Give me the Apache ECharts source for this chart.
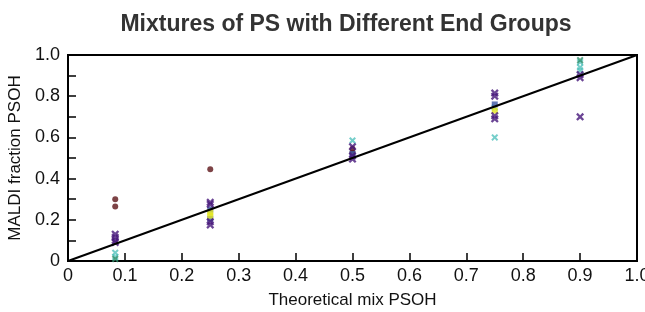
<!DOCTYPE html>
<html>
<head>
<meta charset="utf-8">
<script src="https://cdn.jsdelivr.net/npm/echarts@6/dist/echarts.min.js"></script>
<style>
  html, body { margin: 0; padding: 0; background: #fff; }
  #chrt_mix { width: 645px; height: 312px; }
</style>
</head>
<body>
<div id="chrt_mix"></div>
<script>
// tick labels
const xTicks = [0, 0.1, 0.2, 0.3, 0.4, 0.5, 0.6, 0.7, 0.8, 0.9, 1.0]
const yTicks = [0, 0.2, 0.4, 0.6, 0.8, 1.0]

// measured fractions, [theoretical, maldi]
const maroonDots = [[0.083, 0.30], [0.083, 0.265], [0.25, 0.445], [0.5, 0.545], [0.5, 0.525]]
const purpleX = [
    [0.083, 0.13], [0.083, 0.115], [0.083, 0.10], [0.083, 0.09],
    [0.25, 0.285], [0.25, 0.275], [0.25, 0.19], [0.25, 0.175],
    [0.5, 0.555], [0.5, 0.51], [0.5, 0.495],
    [0.75, 0.815], [0.75, 0.80], [0.75, 0.705], [0.75, 0.69],
    [0.9, 0.905], [0.9, 0.89], [0.9, 0.70]
]
const tealX = [[0.083, 0.04], [0.083, 0.02], [0.5, 0.585], [0.75, 0.60], [0.75, 0.745], [0.9, 0.965], [0.9, 0.94], [0.9, 0.925]]
const yellowSq = [[0.25, 0.235], [0.25, 0.22], [0.75, 0.73]]
const blueSq = [[0.25, 0.25], [0.25, 0.205], [0.5, 0.52], [0.75, 0.76]]
const greenX = [[0.083, 0.01], [0.9, 0.975]]
const ideal = [[0, 0], [1, 1]]

const xMark = 'path://M0,2 L2,0 L5,3 L8,0 L10,2 L7,5 L10,8 L8,10 L5,7 L2,10 L0,8 L3,5 Z'
const narrow = "'Liberation Sans Narrow', 'Liberation Sans', Arial, sans-serif"

const chart = echarts.init(document.getElementById('chrt_mix'))

function pts(data, symbol, size, color) {
    return { type: 'scatter', data: data, symbol: symbol, symbolSize: size, itemStyle: { color: color }, z: 3 }
}

chart.setOption({
    animation: false,
    title: {
        text: 'Mixtures of PS with Different End Groups', left: 341, top: 8, textAlign: 'center',
        textStyle: { fontFamily: 'Liberation Sans, Arial, sans-serif', fontSize: 23, fontWeight: 'bold', color: '#333' }
    },
    grid: {
        left: 68, right: 8, top: 55, bottom: 51, containLabel: false, outerBoundsMode: 'none',
        show: true, borderColor: '#000', borderWidth: 2
    },
    xAxis: {
        type: 'value', min: 0, max: 1, interval: 0.1,
        name: 'Theoretical mix PSOH', nameLocation: 'middle', nameGap: 31,
        nameTextStyle: { fontFamily: narrow, fontSize: 17, color: '#111' },
        axisLine: { lineStyle: { color: '#000', width: 2 } },
        axisTick: { inside: true, length: 8, lineStyle: { color: '#000', width: 1.5 } },
        splitLine: { show: false },
        axisLabel: {
            fontFamily: narrow, fontSize: 18, color: '#111', margin: 6, showMaxLabel: true,
            formatter: v => xTicks.includes(+v.toFixed(1)) ? (v === 0 ? '0' : v.toFixed(1)) : ''
        }
    },
    yAxis: {
        type: 'value', min: 0, max: 1, interval: 0.2,
        name: 'MALDI fraction PSOH', nameLocation: 'middle', nameGap: 40,
        nameTextStyle: { fontFamily: narrow, fontSize: 17, color: '#111' },
        axisLine: { lineStyle: { color: '#000', width: 2 } },
        axisTick: { inside: true, length: 8, lineStyle: { color: '#000', width: 1.5 } },
        minorTick: { show: true, splitNumber: 2, length: 8, lineStyle: { color: '#000', width: 1.5 } },
        splitLine: { show: false },
        axisLabel: {
            fontFamily: narrow, fontSize: 18, color: '#111', margin: 8,
            formatter: v => yTicks.includes(+v.toFixed(1)) ? (v === 0 ? '0' : v.toFixed(1)) : ''
        }
    },
    series: [
        { type: 'line', data: ideal, symbol: 'none', lineStyle: { color: '#000', width: 2 }, z: 4 },
        pts(maroonDots, 'circle', 6, '#5c1418'),
        pts(tealX, xMark, 7, '#52c2bd'),
        pts(greenX, xMark, 7, '#2f8f6a'),
        pts(blueSq, 'rect', 6, '#3a56a0'),
        pts(yellowSq, 'rect', 6, '#e4e620'),
        pts(purpleX, xMark, 8, '#46167a')
    ]
})
</script>
</body>
</html>
